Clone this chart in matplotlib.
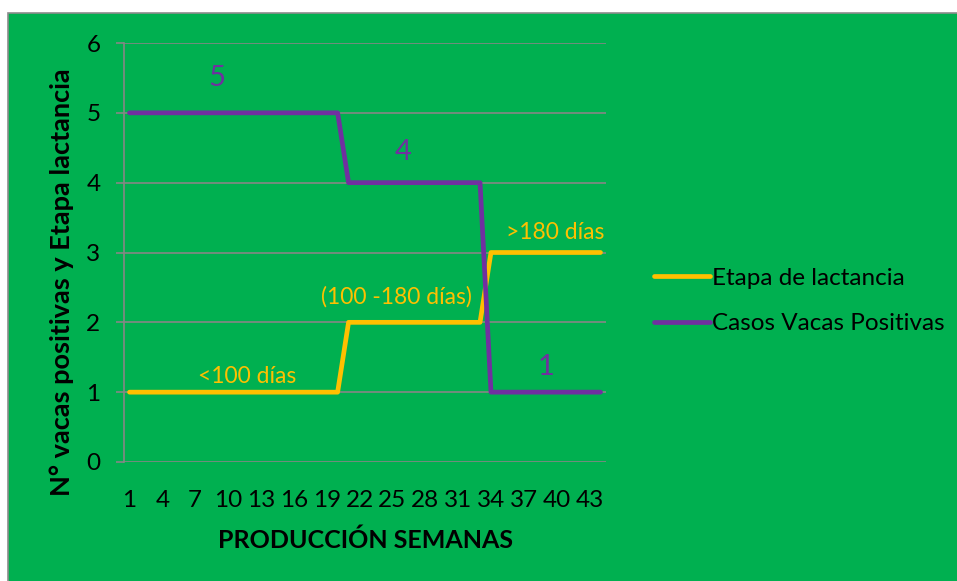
import matplotlib.pyplot as plt
from matplotlib.patches import Rectangle

# weekly series (44 production weeks)
semanas = list(range(1, 45))
etapa_lactancia = [1] * 20 + [2] * 13 + [3] * 11
casos_positivos = [5] * 20 + [4] * 13 + [1] * 11
tick_semanas = list(range(1, 44, 3))

# data labels: (week, y, text)
labels_etapa = [(11.7, 1.23, "<100 días"), (25.4, 2.36, "(100 -180 días)"), (39.9, 3.29, ">180 días")]
labels_casos = [(9, 5.5, "5"), (26, 4.44, "4"), (39, 1.36, "1")]

verde = "#00B050"
amarillo = "#FFC000"
morado = "#7030A0"
gris = "#868686"

plt.rcParams['font.family'] = ['Lato', 'DejaVu Sans']

fig = plt.figure(figsize=(9.57, 5.81), dpi=100)
fig.patch.set_facecolor("white")
fig.patches.append(Rectangle((8 / 957, -0.01), 1.0, 1 - 13 / 581 + 0.01,
                             transform=fig.transFigure, facecolor=verde,
                             edgecolor="#8c8c8c", linewidth=1.2, zorder=-5))

ax = fig.add_axes([124 / 957, 119 / 581, 482 / 957, 419 / 581])
ax.set_facecolor("none")

ax.plot(semanas, etapa_lactancia, color=amarillo, lw=3.4, solid_capstyle="round",
        solid_joinstyle="round", label="Etapa de lactancia", zorder=3)
ax.plot(semanas, casos_positivos, color=morado, lw=3.4, solid_capstyle="round",
        solid_joinstyle="round", label="Casos Vacas Positivas", zorder=4)

for x, y, t in labels_etapa:
    ax.text(x, y, t, color=amarillo, fontsize=16.5, ha="center", va="center", zorder=5)
for x, y, t in labels_casos:
    ax.text(x, y, t, color=morado, fontsize=21, ha="center", va="center", zorder=5)

ax.set_xlim(0.5, 44.5)
ax.set_ylim(0, 6)
ax.set_yticks(range(0, 7))
ax.set_xticks(tick_semanas)
ax.set_xticklabels([str(s) for s in tick_semanas])
ax.yaxis.grid(True, color=gris, lw=1.2)
ax.set_axisbelow(True)

for s in ["top", "right", "bottom"]:
    ax.spines[s].set_visible(False)
ax.spines["left"].set_color(gris)
ax.spines["left"].set_linewidth(1.2)
ax.tick_params(axis="y", length=6, width=1.2, color=gris, pad=11, labelsize=17.5)
ax.tick_params(axis="x", length=0, pad=20, labelsize=17.5)

fig.text(62 / 957, 1 - 282 / 581, "N° vacas positivas y Etapa lactancia", rotation=90,
         fontsize=19.5, fontweight="bold", ha="center", va="center")
fig.text(365 / 957, 1 - 540 / 581, "PRODUCCIÓN SEMANAS",
         fontsize=18, fontweight="bold", ha="center", va="center")

leg = fig.legend(loc="center left", bbox_to_anchor=(632 / 957, 1 - 301 / 581),
                 frameon=False, fontsize=17.5, handlelength=2.3, handletextpad=0.1,
                 labelspacing=1.0)
for h in leg.legend_handles:
    h.set_solid_capstyle("round")

fig.savefig("out.png", dpi=100)
